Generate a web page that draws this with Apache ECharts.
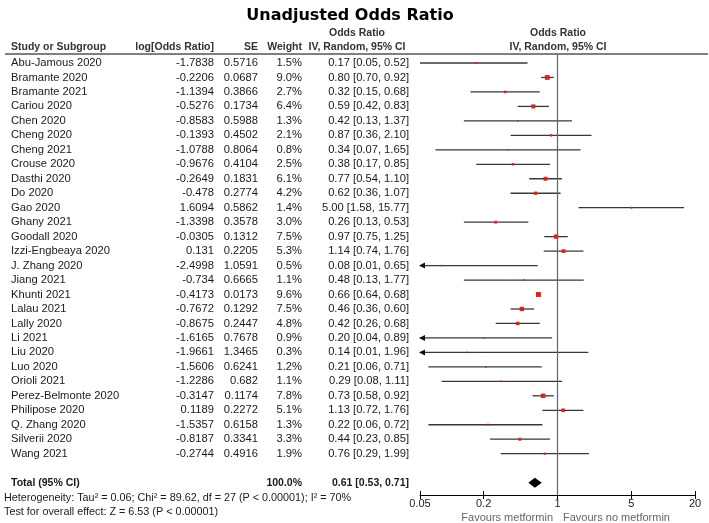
<!DOCTYPE html>
<html><head><meta charset="utf-8">
<script src="https://cdn.jsdelivr.net/npm/echarts@6/dist/echarts.min.js"></script>
<style>html,body{margin:0;padding:0;background:#fff}#c{width:709px;height:523px}</style>
</head><body><div id="c"></div>
<script>
// ---------------- data ----------------
const studies = ["Abu-Jamous 2020","Bramante 2020","Bramante 2021","Cariou 2020","Chen 2020","Cheng 2020","Cheng 2021","Crouse 2020","Dasthi 2020","Do 2020","Gao 2020","Ghany 2021","Goodall 2020","Izzi-Engbeaya 2020","J. Zhang 2020","Jiang 2021","Khunti 2021","Lalau 2021","Lally 2020","Li 2021","Liu 2020","Luo 2020","Orioli 2021","Perez-Belmonte 2020","Philipose 2020","Q. Zhang 2020","Silverii 2020","Wang 2021"];
const logOR = [-1.7838,-0.2206,-1.1394,-0.5276,-0.8583,-0.1393,-1.0788,-0.9676,-0.2649,-0.478,1.6094,-1.3398,-0.0305,0.131,-2.4998,-0.734,-0.4173,-0.7672,-0.8675,-1.6165,-1.9661,-1.5606,-1.2286,-0.3147,0.1189,-1.5357,-0.8187,-0.2744];
const se = [0.5716,0.0687,0.3866,0.1734,0.5988,0.4502,0.8064,0.4104,0.1831,0.2774,0.5862,0.3578,0.1312,0.2205,1.0591,0.6665,0.0173,0.1292,0.2447,0.7678,1.3465,0.6241,0.682,0.1174,0.2272,0.6158,0.3341,0.4916];
const weight = [1.5,9.0,2.7,6.4,1.3,2.1,0.8,2.5,6.1,4.2,1.4,3.0,7.5,5.3,0.5,1.1,9.6,7.5,4.8,0.9,0.3,1.2,1.1,7.8,5.1,1.3,3.3,1.9];
const oddsRatio = [0.17,0.80,0.32,0.59,0.42,0.87,0.34,0.38,0.77,0.62,5.00,0.26,0.97,1.14,0.08,0.48,0.66,0.46,0.42,0.20,0.14,0.21,0.29,0.73,1.13,0.22,0.44,0.76];
const ciLow = [0.05,0.70,0.15,0.42,0.13,0.36,0.07,0.17,0.54,0.36,1.58,0.13,0.75,0.74,0.01,0.13,0.64,0.36,0.26,0.04,0.01,0.06,0.08,0.58,0.72,0.06,0.23,0.29];
const ciHigh = [0.52,0.92,0.68,0.83,1.37,2.10,1.65,0.85,1.10,1.07,15.77,0.53,1.25,1.76,0.65,1.77,0.68,0.60,0.68,0.89,1.96,0.71,1.11,0.92,1.76,0.72,0.85,1.99];
const totalWeight = 100.0;
const totalOR = [0.61, 0.53, 0.71]; // estimate, low, high
const tickLabels = [0.05, 0.2, 1, 5, 20];
const titleText = "Unadjusted Odds Ratio";
const heterogeneityText = "Heterogeneity: Tau\u00b2 = 0.06; Chi\u00b2 = 89.62, df = 27 (P < 0.00001); I\u00b2 = 70%";
const overallText = "Test for overall effect: Z = 6.53 (P < 0.00001)";
const favoursLeft = "Favours metformin";
const favoursRight = "Favours no metformin";

// ---------------- layout ----------------
const W = 709, H = 523, ROW0 = 63, U = 14.47;
const rowOf = px => (px - ROW0) / U;
const FL = 420, FR = 695, FT = 54, FB = 495;
const AX_MIN = Math.log10(tickLabels[0]), AX_MAX = Math.log10(tickLabels[tickLabels.length - 1]);
const BODY = "'Liberation Sans', Arial, sans-serif";
const TXT = '#1a1a1a';
const COL = { name: 11, log: 214, se: 258, weight: 302, ci: 409, ciHead: 357, forestHead: 558 };
const totalRow = studies.length + 1;

const items = [];
function add(x, row, text, align, o) {
  o = o || {};
  items.push({ value: [x, row], text, align, bold: !!o.bold, size: o.size || 11.2,
    family: o.family || BODY, color: o.color || TXT });
}
add(350, rowOf(16), titleText, 'center', { bold: true, size: 16, family: "'DejaVu Sans', Verdana, sans-serif", color: '#000' });
add(COL.ciHead, rowOf(33), 'Odds Ratio', 'center', { bold: true, size: 10.5, color: '#333' });
add(COL.forestHead, rowOf(33), 'Odds Ratio', 'center', { bold: true, size: 10.5, color: '#333' });
const hr = rowOf(47);
add(COL.name, hr, 'Study or Subgroup', 'left', { bold: true, size: 10.5, color: '#333' });
add(COL.log, hr, 'log[Odds Ratio]', 'right', { bold: true, size: 10.5, color: '#333' });
add(COL.se, hr, 'SE', 'right', { bold: true, size: 10.5, color: '#333' });
add(COL.weight, hr, 'Weight', 'right', { bold: true, size: 10.5, color: '#333' });
add(COL.ciHead, hr, 'IV, Random, 95% CI', 'center', { bold: true, size: 10.5, color: '#333' });
add(COL.forestHead, hr, 'IV, Random, 95% CI', 'center', { bold: true, size: 10.5, color: '#333' });
const ci = (o, l, h) => o.toFixed(2) + ' [' + l.toFixed(2) + ', ' + h.toFixed(2) + ']';
studies.forEach((s, i) => {
  add(COL.name, i, s, 'left');
  add(COL.log, i, String(logOR[i]), 'right');
  add(COL.se, i, String(se[i]), 'right');
  add(COL.weight, i, weight[i].toFixed(1) + '%', 'right');
  add(COL.ci, i, ci(oddsRatio[i], ciLow[i], ciHigh[i]), 'right');
});
add(COL.name, totalRow, 'Total (95% CI)', 'left', { bold: true, size: 10.5 });
add(COL.weight, totalRow, totalWeight.toFixed(1) + '%', 'right', { bold: true, size: 10.5 });
add(COL.ci, totalRow, ci(totalOR[0], totalOR[1], totalOR[2]), 'right', { bold: true, size: 10.5 });
add(4, rowOf(498), heterogeneityText, 'left', { size: 10.8 });
add(4, rowOf(512), overallText, 'left', { size: 10.8 });
add(553, rowOf(518), favoursLeft, 'right', { size: 11, color: '#666' });
add(563, rowOf(518), favoursRight, 'left', { size: 11, color: '#666' });

const chart = echarts.init(document.getElementById('c'), null, { renderer: 'canvas' });
const forestData = studies.map((s, i) => [Math.log10(oddsRatio[i]), i, Math.log10(ciLow[i]), Math.log10(ciHigh[i]), weight[i]]);

chart.setOption({
  animation: false,
  backgroundColor: '#fff',
  grid: [
    { left: 0, top: 0, width: W, height: H },
    { left: FL, top: FT, width: FR - FL, height: FB - FT }
  ],
  xAxis: [
    { gridIndex: 0, type: 'value', min: 0, max: W, show: false },
    { gridIndex: 1, type: 'value', min: AX_MIN, max: AX_MAX, position: 'bottom',
      axisLine: { show: true, onZero: false, lineStyle: { color: '#000', width: 1 } },
      axisTick: { show: true, length: 4, lineStyle: { color: '#000' }, customValues: tickLabels.map(v => Math.log10(v)) },
      axisLabel: { show: true, margin: 3, color: '#222', fontSize: 11, fontFamily: BODY,
        customValues: tickLabels.map(v => Math.log10(v)),
        formatter: v => String(Number(Math.pow(10, v).toPrecision(2))) },
      splitLine: { show: false } },
    { gridIndex: 1, type: 'value', min: AX_MIN, max: AX_MAX, position: 'bottom',
      axisLine: { show: false, onZero: false },
      axisTick: { show: true, inside: true, length: 4, lineStyle: { color: '#000' }, customValues: tickLabels.map(v => Math.log10(v)) },
      axisLabel: { show: false }, splitLine: { show: false } }
  ],
  yAxis: [
    { gridIndex: 0, type: 'value', inverse: true, min: rowOf(0), max: rowOf(H), show: false },
    { gridIndex: 1, type: 'value', inverse: true, min: rowOf(FT), max: rowOf(FB), show: false }
  ],
  series: [
    { type: 'line', xAxisIndex: 0, yAxisIndex: 0, silent: true, symbol: 'none',
      data: [[5, rowOf(54)], [708, rowOf(54)]], lineStyle: { color: '#000', width: 1 } },
    { type: 'line', xAxisIndex: 1, yAxisIndex: 1, silent: true, symbol: 'none',
      data: [[0, rowOf(FT)], [0, rowOf(FB)]], lineStyle: { color: '#666', width: 1.2 } },
    { type: 'custom', xAxisIndex: 0, yAxisIndex: 0, silent: true, data: items.map(it => it.value),
      renderItem: (params, api) => {
        const it = items[params.dataIndex];
        const p = api.coord([api.value(0), api.value(1)]);
        return { type: 'text', x: p[0], y: p[1], style: { text: it.text, align: it.align, verticalAlign: 'middle',
          font: (it.bold ? 'bold ' : '') + it.size + 'px ' + it.family, fill: it.color } };
      } },
    { type: 'custom', xAxisIndex: 1, yAxisIndex: 1, silent: true, data: forestData,
      renderItem: (params, api) => {
        const lo = api.value(2), hi = api.value(3), c = api.value(0), w = api.value(4);
        const y = api.coord([c, api.value(1)])[1];
        const clipped = lo < AX_MIN;
        const x1 = api.coord([Math.max(lo, AX_MIN), 0])[0];
        const x2 = api.coord([hi, 0])[0];
        const xc = api.coord([c, 0])[0];
        const ch = [{ type: 'line', shape: { x1, y1: y, x2, y2: y }, style: { stroke: '#383838', lineWidth: 1.3 } }];
        if (clipped) ch.push({ type: 'polygon', shape: { points: [[x1 - 1, y], [x1 + 5, y - 3], [x1 + 5, y + 3]] }, style: { fill: '#111' } });
        const s = Math.max(1.6, 1.6 * Math.sqrt(w));
        ch.push({ type: 'rect', shape: { x: xc - s / 2, y: y - s / 2, width: s, height: s }, style: { fill: '#d8231f' } });
        return { type: 'group', children: ch };
      } },
    { type: 'custom', xAxisIndex: 1, yAxisIndex: 1, silent: true,
      data: [[Math.log10(totalOR[0]), totalRow, Math.log10(totalOR[1]), Math.log10(totalOR[2])]],
      renderItem: (params, api) => {
        const p = api.coord([api.value(0), api.value(1)]);
        const xl = api.coord([api.value(2), 0])[0], xh = api.coord([api.value(3), 0])[0];
        return { type: 'polygon', shape: { points: [[xl, p[1]], [p[0], p[1] - 5], [xh, p[1]], [p[0], p[1] + 5]] }, style: { fill: '#000' } };
      } }
  ]
});
</script></body></html>
